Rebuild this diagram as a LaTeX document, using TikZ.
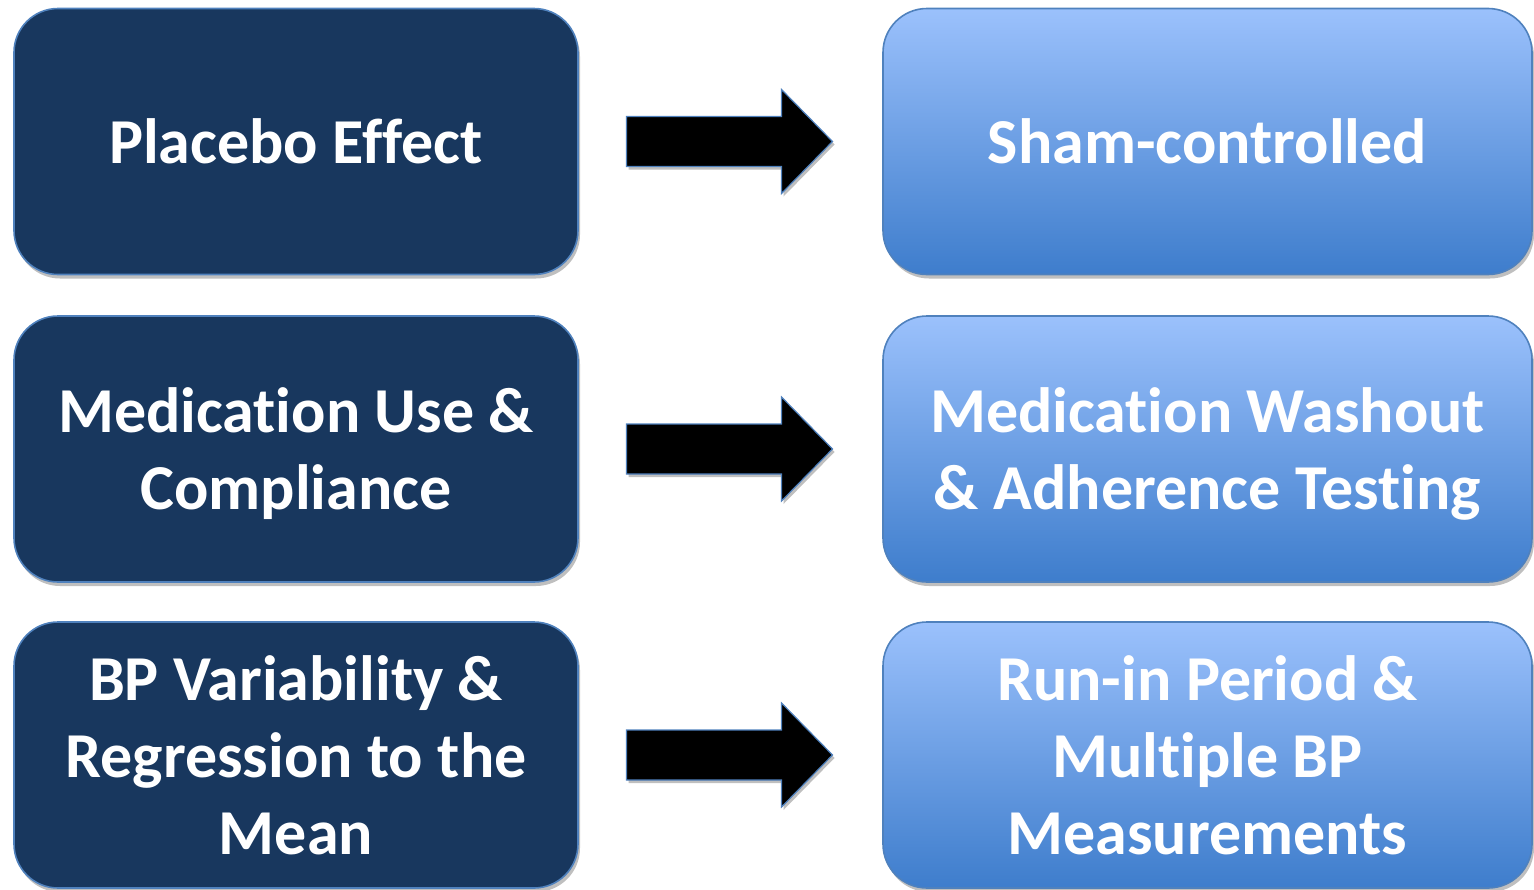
\documentclass[tikz,border=0pt]{standalone}
\usepackage{fontspec}
\setmainfont{Carlito}[Ligatures=NoCommon]
\usetikzlibrary{calc,shadows}
\definecolor{darkbox}{RGB}{24,55,94}
\definecolor{edgeblue}{RGB}{79,129,189}
\definecolor{lighttop}{RGB}{155,193,252}
\definecolor{lightbot}{RGB}{62,125,204}
\begin{document}
\begin{tikzpicture}[x=1pt,y=-1pt,
  box/.style={rounded corners=44pt, draw=edgeblue, line width=1.6pt,
    inner sep=0pt,
    drop shadow={shadow xshift=2pt, shadow yshift=-4pt, opacity=0.25, fill=black}},
  causebox/.style={box, fill=darkbox, minimum width=564pt, minimum height=266pt},
  fixbox/.style={box, top color=lighttop, bottom color=lightbot,
    minimum width=649pt, minimum height=266pt},
  boxtext/.style={inner sep=0pt, align=center, text=white,
    font=\fontsize{64}{77}\selectfont\bfseries},
  blockarrow/.style={fill=black, draw=edgeblue, line width=1.2pt, line join=miter,
    drop shadow={shadow xshift=2pt, shadow yshift=-3pt, opacity=0.25, fill=black}}
]
\useasboundingbox (0,0) rectangle (1534,889);

% problems (left column)
\node[causebox] (L1) at (296,141.5) {};
\node[causebox] (L2) at (296,449) {};
\node[causebox] (L3) at (296,755) {};

% remedies (right column)
\node[fixbox] (R1) at (1207.5,141.5) {};
\node[fixbox] (R2) at (1207.5,449) {};
\node[fixbox] (R3) at (1207.5,755) {};

% labels
\node[boxtext] (L1t) at ($(L1.center)+(0,0)$) {Placebo Effect};
\node[boxtext] (L2t) at ($(L2.center)+(0,5)$) {Medication Use \&\\Compliance};
\node[boxtext] (L3t) at ($(L3.center)+(0,0)$) {BP Variability \&\\Regression to the\\Mean};
\node[boxtext] (R1t) at ($(R1.center)+(0,0)$) {Sham-controlled};
\node[boxtext] (R2t) at ($(R2.center)+(0,5)$) {Medication Washout\\\& Adherence Testing};
\node[boxtext] (R3t) at ($(R3.center)+(0,0)$) {Run-in Period \&\\Multiple BP\\Measurements};

% block arrows centred between each pair
\foreach \i in {1,2,3}{
  \coordinate (m\i) at ($(L\i.east)!0.5!(R\i.west)$);
  \draw[blockarrow] ($(m\i)+(-104,-25)$) -- ++(155,0) -- ++(0,-27) -- ++(51,52)
    -- ++(-51,52) -- ++(0,-27) -- ++(-155,0) -- cycle;
}
\end{tikzpicture}
\end{document}
